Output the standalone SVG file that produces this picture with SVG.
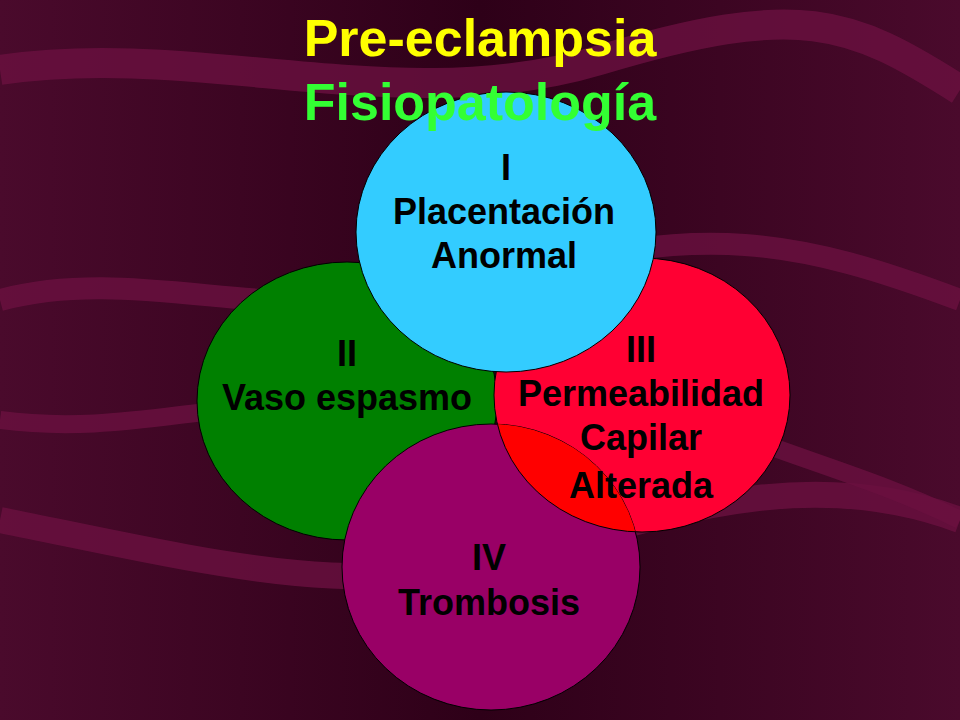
<svg xmlns="http://www.w3.org/2000/svg" width="960" height="720" viewBox="0 0 960 720">
<defs>
<linearGradient id="bg" x1="0" y1="0" x2="1" y2="0">
<stop offset="0" stop-color="#4a0a2c"/><stop offset="0.5" stop-color="#2e0018"/><stop offset="1" stop-color="#4a0a2c"/>
</linearGradient>
<clipPath id="purpleClip"><ellipse cx="491" cy="567" rx="149" ry="143"/></clipPath>
<style>
.c{stroke:#000;stroke-width:1}
.t{font-family:"Liberation Sans",Arial,sans-serif;font-weight:bold;font-size:36px;fill:#000;text-anchor:middle}
.h{font-family:"Liberation Sans",Arial,sans-serif;font-weight:bold;font-size:52px;text-anchor:middle}
.w{fill:none;stroke:#6a1040;opacity:0.8}
</style>
</defs>
<rect width="960" height="720" fill="url(#bg)"/>
<g id="background-waves">
<path class="w" stroke-width="30" d="M0,70 C200,40 400,120 600,60 S850,20 960,90"/>
<path class="w" stroke-width="22" d="M0,300 C150,260 300,340 500,280 S800,240 960,300"/>
<path class="w" stroke-width="26" d="M0,520 C200,560 350,600 500,560 S800,460 960,520"/>
<path class="w" stroke-width="18" d="M0,420 C150,440 250,380 400,420"/>
<path class="w" stroke-width="18" d="M700,420 C800,460 880,480 960,520"/>
</g>
<g id="node-II"><ellipse class="c" cx="347" cy="401" rx="150" ry="139" fill="#008000"/></g>
<g id="node-III"><ellipse class="c" cx="642" cy="395" rx="148" ry="137" fill="#FF0033"/></g>
<g id="node-IV"><ellipse class="c" cx="491" cy="567" rx="149" ry="143" fill="#990066"/>
<ellipse cx="642" cy="395" rx="148" ry="137" fill="#FF0000" clip-path="url(#purpleClip)" class="c"/></g>
<g id="node-I"><ellipse class="c" cx="506" cy="232" rx="150" ry="140" fill="#33CCFF"/></g>
<g id="connectors"></g>
<g id="title">
<text class="h" x="480" y="56" fill="#FFFF00">Pre-eclampsia</text>
<text class="h" x="480" y="120" fill="#33FF33">Fisiopatología</text>
</g>
<g id="labels">
<text class="t" x="506" y="180">I</text>
<text class="t" x="504" y="224">Placentación</text>
<text class="t" x="504" y="268">Anormal</text>
<text class="t" x="347" y="366">II</text>
<text class="t" x="347" y="410">Vaso espasmo</text>
<text class="t" x="641" y="362">III</text>
<text class="t" x="641" y="406">Permeabilidad</text>
<text class="t" x="641" y="450">Capilar</text>
<text class="t" x="641" y="498">Alterada</text>
<text class="t" x="489" y="570">IV</text>
<text class="t" x="489" y="615">Trombosis</text>
</g>
</svg>
